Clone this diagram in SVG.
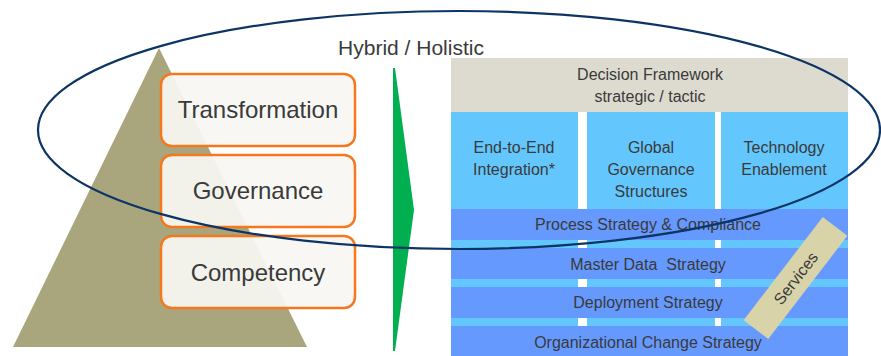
<svg xmlns="http://www.w3.org/2000/svg" width="881" height="356" viewBox="0 0 881 356">
<style>
.t{font-family:"Liberation Sans",Arial,sans-serif;fill:#3a3a3a;text-anchor:middle}
.big{font-size:24px}
.mid{font-size:16px}
.box{fill:#f7f6f2;fill-opacity:0.93;stroke:#f5781e;stroke-width:2.5}
.col{fill:#63c7fe}
.band{fill:#6699fe}
</style>
<rect width="881" height="356" fill="#ffffff"/>
<g id="pyramid">
<polygon points="159,48 307,347 13,347" fill="#a9a67d"/>
</g>
<g id="transformation">
<rect class="box" x="161" y="74" width="194" height="72" rx="11"/>
<text class="t big" x="258" y="118">Transformation</text>
</g>
<g id="governance">
<rect class="box" x="161" y="155" width="194" height="72" rx="11"/>
<text class="t big" x="258" y="199">Governance</text>
</g>
<g id="competency">
<rect class="box" x="161" y="236" width="194" height="72" rx="11"/>
<text class="t big" x="258" y="281">Competency</text>
</g>
<g id="arrow">
<polygon points="393,68 395,68 414,210 395,351 393,351" fill="#00b050"/>
</g>
<g id="hybrid-label">
<text class="t" style="font-size:21px" x="411" y="55">Hybrid / Holistic</text>
</g>
<g id="panel">
<rect x="451" y="112" width="397" height="244" class="col"/>
<rect x="578" y="112" width="9" height="244" fill="#ffffff"/>
<rect x="715" y="112" width="6" height="244" fill="#ffffff"/>
</g>
<g id="decision-framework">
<rect x="451" y="58" width="397" height="54" fill="#dddad0"/>
<text class="t mid" x="650" y="80">Decision Framework</text>
<text class="t mid" x="650" y="102">strategic / tactic</text>
</g>
<g id="end-to-end">
<text class="t mid" x="514" y="153">End-to-End</text>
<text class="t mid" x="514" y="175">Integration*</text>
</g>
<g id="global-governance">
<text class="t mid" x="651" y="153">Global</text>
<text class="t mid" x="651" y="175">Governance</text>
<text class="t mid" x="651" y="197">Structures</text>
</g>
<g id="technology">
<text class="t mid" x="784" y="153">Technology</text>
<text class="t mid" x="784" y="175">Enablement</text>
</g>
<g id="process">
<rect class="band" x="451" y="209" width="397" height="31"/>
<text class="t mid" x="648" y="230">Process Strategy &amp; Compliance</text>
</g>
<g id="master-data">
<rect class="band" x="451" y="248" width="397" height="31"/>
<text class="t mid" x="648" y="270" xml:space="preserve">Master Data  Strategy</text>
</g>
<g id="deployment">
<rect class="band" x="451" y="287" width="397" height="31"/>
<text class="t mid" x="648" y="308">Deployment Strategy</text>
</g>
<g id="org-change">
<rect class="band" x="451" y="326" width="397" height="30"/>
<text class="t mid" x="648" y="348">Organizational Change Strategy</text>
</g>
<g id="services" transform="translate(795.5,278) rotate(-52.5)">
<rect x="-65" y="-15.5" width="130" height="31" fill="#d8d3a8"/>
<text class="t mid" x="0" y="6">Services</text>
</g>
<g id="connectors">
<ellipse cx="459" cy="130" rx="421" ry="119" fill="none" stroke="#0c3566" stroke-width="2.2"/>
</g>
</svg>
